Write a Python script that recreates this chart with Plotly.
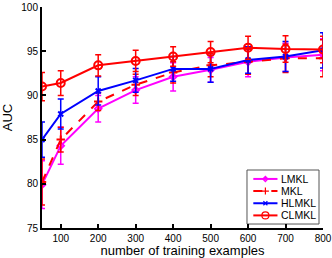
import plotly.graph_objects as go

x = [50, 100, 200, 300, 400, 500, 600, 700, 800]

lmkl = [79.9, 84.3, 88.5, 90.6, 92.1, 92.9, 93.8, 94.3, 94.6]
lmkl_err = [2.7, 2.1, 1.5, 1.5, 1.6, 1.4, 1.7, 1.6, 1.8]

mkl = [80.2, 85.0, 89.3, 91.2, 92.6, 93.4, 93.8, 94.2, 94.2]
mkl_err = [2.6, 1.4, 1.0, 1.2, 1.2, 1.3, 1.4, 1.6, 2.1]

hlmkl = [85.0, 87.9, 90.5, 91.7, 93.0, 93.0, 94.0, 94.4, 95.1]
hlmkl_err = [2.0, 1.7, 1.6, 1.35, 1.4, 1.5, 1.5, 1.7, 2.0]

clmkl = [91.0, 91.4, 93.4, 93.9, 94.4, 94.9, 95.4, 95.25, 95.2]
clmkl_err = [1.6, 1.4, 1.2, 1.2, 1.1, 1.2, 1.3, 1.5, 1.5]

names = ["LMKL", "MKL", "HLMKL", "CLMKL"]
colors = ["#ff00ff", "#ff0000", "#0000ff", "#ff0000"]
dashes = ["solid", "dash", "solid", "solid"]
symbols = ["diamond-open", "cross-thin-open", "x-thin-open", "circle-open"]
sizes = [5, 6, 5, 8]

fig = go.Figure()
for name, y, e, c, dash, sym, ms in zip(names, [lmkl, mkl, hlmkl, clmkl],
                                        [lmkl_err, mkl_err, hlmkl_err, clmkl_err],
                                        colors, dashes, symbols, sizes):
    fig.add_trace(go.Scatter(
        x=x, y=y, name=name, mode="lines+markers", showlegend=False,
        line=dict(color=c, width=2, dash=dash),
        marker=dict(symbol=sym, size=ms, color=c, line=dict(color=c, width=2)),
        error_y=dict(type="data", array=e, visible=True, color=c, thickness=1.5, width=3),
    ))

# custom legend (MATLAB-like compact box)
lx0, lx1, ly0, ly1 = 0.7295, 0.9858, 0.018, 0.2624
fig.add_shape(type="rect", xref="paper", yref="paper", x0=lx0, x1=lx1, y0=ly0, y1=ly1,
              line=dict(color="#555", width=1), fillcolor="white", layer="below")
row_y = [0.222, 0.167, 0.112, 0.057]
sx0, sx1 = 0.752, 0.838
for name, c, dash, sym, ms, ry in zip(names, colors, dashes, symbols, sizes, row_y):
    fig.add_shape(type="line", xref="paper", yref="paper", x0=sx0, x1=sx1, y0=ry, y1=ry,
                  line=dict(color=c, width=2, dash="dash" if dash == "dash" else "solid"),
                  layer="above")
    fig.add_trace(go.Scatter(x=[(sx0 + sx1) / 2], y=[ry], xaxis="x2", yaxis="y2",
                             mode="markers", showlegend=False, hoverinfo="skip",
                             marker=dict(symbol=sym, size=ms - 1, color=c,
                                         line=dict(color=c, width=1.2))))
    fig.add_annotation(xref="paper", yref="paper", x=0.843, y=ry, text=name,
                       showarrow=False, xanchor="left", yanchor="middle",
                       font=dict(size=10.5, color="black"))

fig.update_layout(
    width=332, height=258,
    margin=dict(l=42, r=9, t=7, b=30),
    paper_bgcolor="white", plot_bgcolor="white",
    font=dict(family="Liberation Sans, Arial, sans-serif", size=10, color="black"),
    showlegend=False,
    xaxis=dict(range=[50, 800], tickvals=[100, 200, 300, 400, 500, 600, 700, 800],
               ticks="inside", ticklen=4, tickwidth=1.5, tickcolor="black",
               showline=True, linecolor="black", linewidth=2, showgrid=False, zeroline=False,
               ticklabeloverflow="allow", automargin=False,
               title=dict(text="number of training examples", font=dict(size=13), standoff=0),
               tickfont=dict(size=10)),
    yaxis=dict(range=[75, 100], tickvals=[75, 80, 85, 90, 95, 100],
               ticks="inside", ticklen=4, tickwidth=1.5, tickcolor="black",
               showline=True, linecolor="black", linewidth=2, showgrid=False, zeroline=False,
               automargin=False,
               title=dict(text="AUC", font=dict(size=13), standoff=6),
               tickfont=dict(size=10)),
    xaxis2=dict(overlaying="x", range=[0, 1], visible=False),
    yaxis2=dict(overlaying="y", range=[0, 1], visible=False),
)
fig.write_html("out.html", config={"displayModeBar": False},
               post_script="document.body.style.margin='0';")
